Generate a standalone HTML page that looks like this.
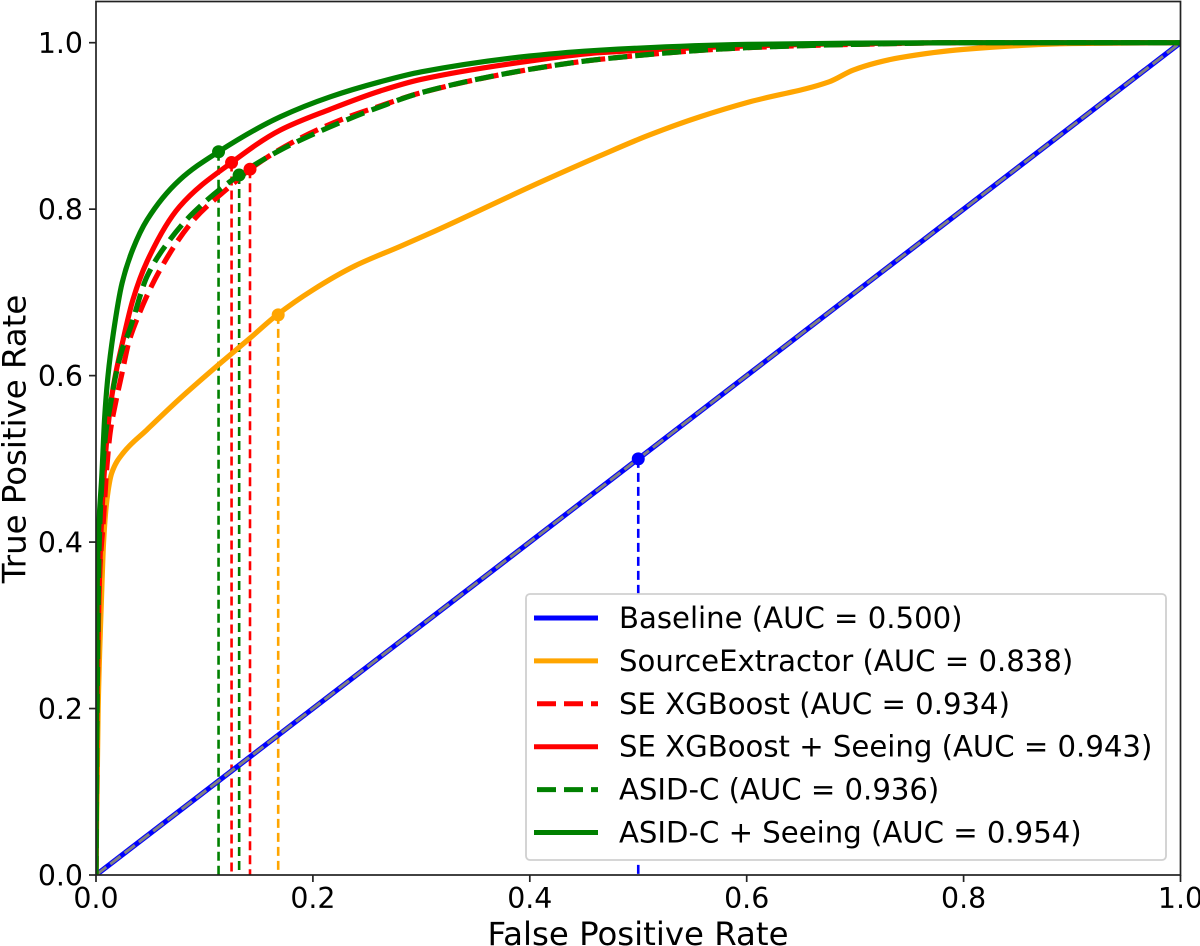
<!DOCTYPE html>
<html lang="en">
<head>
<meta charset="utf-8">
<title>ROC curves</title>
<style>
html,body{margin:0;padding:0;background:#fff;}
svg{display:block;}
text{font-family:"DejaVu Sans","Liberation Sans",sans-serif;fill:#000;}
</style>
</head>
<body>
<svg id="chart" xmlns="http://www.w3.org/2000/svg" width="1200" height="946" viewBox="0 0 1200 946">
<defs><clipPath id="plot-clip"><rect x="96" y="1" width="1084.5" height="874"></rect></clipPath></defs>
<g id="drops" clip-path="url(#plot-clip)"></g>
<g id="curves" clip-path="url(#plot-clip)"></g>
<g id="points"></g>
<g id="legend"></g>
<g id="axes"></g>
</svg>
<script>
const xTickValues = [0, 0.2, 0.4, 0.6, 0.8, 1];
const yTickValues = [0, 0.2, 0.4, 0.6, 0.8, 1];
const xTickLabels = ["0.0", "0.2", "0.4", "0.6", "0.8", "1.0"];
const yTickLabels = ["0.0", "0.2", "0.4", "0.6", "0.8", "1.0"];

const baselineFpr = [0, 1];
const baselineTpr = [0, 1];
const sourceFpr = [0, 0.002, 0.005, 0.007, 0.01, 0.0145, 0.025, 0.047, 0.077, 0.112, 0.142, 0.167, 0.2, 0.239, 0.28, 0.308, 0.409, 0.4645, 0.51, 0.557, 0.603, 0.676, 0.698, 0.72, 0.741, 0.8, 0.9, 1];
const sourceTpr = [0, 0.2, 0.33, 0.4, 0.45, 0.483, 0.507, 0.535, 0.572, 0.612, 0.645, 0.673, 0.703, 0.732, 0.755, 0.771, 0.832, 0.864, 0.889, 0.911, 0.929, 0.953, 0.967, 0.976, 0.982, 0.992, 0.999, 1];
const seFpr = [0, 0.001, 0.003, 0.007, 0.01, 0.013, 0.018, 0.024, 0.03, 0.036, 0.059, 0.09, 0.125, 0.142, 0.185, 0.231, 0.262, 0.3, 0.4, 0.4645, 0.6, 0.7, 0.8, 1];
const seTpr = [0, 0.2, 0.35, 0.43, 0.49, 0.531, 0.567, 0.603, 0.639, 0.662, 0.727, 0.787, 0.829, 0.848, 0.883, 0.91, 0.924, 0.94, 0.968, 0.98, 0.994, 0.998, 1, 1];
const seSeeingFpr = [0, 0.001, 0.004, 0.007, 0.011, 0.016, 0.025, 0.034, 0.047, 0.077, 0.125, 0.17, 0.216, 0.262, 0.3, 0.4, 0.4645, 0.6, 0.7, 0.8, 1];
const seSeeingTpr = [0, 0.2, 0.39, 0.471, 0.538, 0.587, 0.643, 0.691, 0.737, 0.803, 0.856, 0.895, 0.92, 0.942, 0.956, 0.978, 0.988, 0.996, 0.999, 1, 1];
const asidFpr = [0, 0.001, 0.003, 0.006, 0.009, 0.013, 0.018, 0.024, 0.031, 0.047, 0.068, 0.09, 0.132, 0.17, 0.216, 0.262, 0.3, 0.4, 0.4645, 0.6, 0.7, 0.8, 1];
const asidTpr = [0, 0.2, 0.4, 0.483, 0.531, 0.563, 0.599, 0.631, 0.655, 0.719, 0.763, 0.796, 0.841, 0.871, 0.899, 0.923, 0.94, 0.968, 0.98, 0.994, 0.998, 1, 1];
const asidSeeingFpr = [0, 0.001, 0.002, 0.0055, 0.008, 0.011, 0.016, 0.024, 0.034, 0.047, 0.077, 0.113, 0.17, 0.216, 0.262, 0.3, 0.4, 0.4645, 0.6, 0.7, 0.8, 1];
const asidSeeingTpr = [0, 0.33, 0.4, 0.483, 0.55, 0.599, 0.651, 0.711, 0.752, 0.787, 0.835, 0.869, 0.911, 0.935, 0.953, 0.965, 0.984, 0.991, 0.998, 0.9995, 1, 1];

const pointFpr = [0.5, 0.168, 0.142, 0.125, 0.132, 0.113];
const pointTpr = [0.5, 0.673, 0.848, 0.856, 0.841, 0.869];
const seriesNames = ["baseline", "source-extractor", "se-xgboost", "se-xgboost-seeing", "asid-c", "asid-c-seeing"];
const legendLabels = ["Baseline (AUC = 0.500)", "SourceExtractor (AUC = 0.838)", "SE XGBoost (AUC = 0.934)", "SE XGBoost + Seeing (AUC = 0.943)", "ASID-C (AUC = 0.936)", "ASID-C + Seeing (AUC = 0.954)"];
const seriesColors = ["#0000ff", "#ffa500", "#ff0000", "#ff0000", "#008000", "#008000"];
const seriesDashes = ["", "", "19 8", "", "19 8", ""];
const seriesFpr = [baselineFpr, sourceFpr, seFpr, seSeeingFpr, asidFpr, asidSeeingFpr];
const seriesTpr = [baselineTpr, sourceTpr, seTpr, seSeeingTpr, asidTpr, asidSeeingTpr];

const NS = "http://www.w3.org/2000/svg";
function xScale(v) { return 96 + 1084.5 * v; }
function yScale(v) { return 875 - 832.3 * v; }
function make(parent, tag, props, content) {
  const node = document.createElementNS(NS, tag);
  Object.keys(props).forEach(function (k) { node.setAttribute(k, props[k]); });
  if (content !== undefined) node.textContent = content;
  parent.appendChild(node);
  return node;
}
/* Monotone cubic path through the scaled data values */
function curvePath(xs, ys) {
  const n = xs.length;
  const d = [];
  for (let i = 0; i < n - 1; i++) d.push((ys[i + 1] - ys[i]) / (xs[i + 1] - xs[i]));
  const m = [d[0]];
  for (let i = 1; i < n - 1; i++) {
    if (d[i - 1] * d[i] <= 0) { m.push(0); continue; }
    const w1 = 2 * (xs[i + 1] - xs[i]) + (xs[i] - xs[i - 1]);
    const w2 = (xs[i + 1] - xs[i]) + 2 * (xs[i] - xs[i - 1]);
    m.push((w1 + w2) / (w1 / d[i - 1] + w2 / d[i]));
  }
  m.push(d[n - 2]);
  let path = "M" + xs[0] + " " + ys[0];
  for (let i = 0; i < n - 1; i++) {
    const h = (xs[i + 1] - xs[i]) / 3;
    path += "C" + (xs[i] + h) + " " + (ys[i] + m[i] * h) + " " + (xs[i + 1] - h) + " " + (ys[i + 1] - m[i + 1] * h) + " " + xs[i + 1] + " " + ys[i + 1];
  }
  return path;
}
const dropsGroup = document.getElementById("drops");
const curvesGroup = document.getElementById("curves");
const pointsGroup = document.getElementById("points");
const legendGroup = document.getElementById("legend");
const axesGroup = document.getElementById("axes");

seriesNames.forEach(function (name, i) {
  const px = seriesFpr[i].map(xScale);
  const py = seriesTpr[i].map(yScale);
  const el = make(curvesGroup, "path", { d: curvePath(px, py), fill: "none", stroke: seriesColors[i], "stroke-width": 5.2, "stroke-linejoin": "round" });
  
  
  if (seriesDashes[i]) el.setAttribute("stroke-dasharray", seriesDashes[i]);
  if (i === 0) {
    const over = make(curvesGroup, "line", { x1: xScale(baselineFpr[0]), y1: yScale(baselineTpr[0]), x2: xScale(baselineFpr[1]), y2: yScale(baselineTpr[1]), stroke: "#808080", "stroke-width": 3, "stroke-dasharray": "13 5" });
    
    
  }
  const drop = make(dropsGroup, "line", { x1: xScale(pointFpr[i]), y1: yScale(pointTpr[i]), x2: xScale(pointFpr[i]), y2: yScale(0), stroke: seriesColors[i], "stroke-width": 2.6, "stroke-dasharray": "9 5" });
  
  
});
[0, 1, 4, 5, 3, 2].forEach(function (i) {
  const dot = make(pointsGroup, "circle", { cx: xScale(pointFpr[i]), cy: yScale(pointTpr[i]), r: 6.5, fill: seriesColors[i] });
  
  
});

const frame = make(legendGroup, "rect", { x: 526, y: 594, width: 640, height: 266, rx: 4, fill: "#fff", stroke: "#d0d0d0", "stroke-width": 1.8 });


legendLabels.forEach(function (label, i) {
  const rowY = 618 + i * 42.9;
  const x1 = seriesDashes[i] ? 537 : 534;
  const handle = make(legendGroup, "line", { x1: x1, y1: rowY, x2: 598, y2: rowY, stroke: seriesColors[i], "stroke-width": 5 });
  
  
  if (seriesDashes[i]) handle.setAttribute("stroke-dasharray", seriesDashes[i]);
  const txt = make(legendGroup, "text", { x: 619, y: rowY + 10, "font-size": 29.15 }, label);
  
  
});

const spine = make(axesGroup, "rect", { x: 96, y: 1.5, width: 1084.5, height: 873.5, fill: "none", stroke: "#222", "stroke-width": 1.7 });


xTickValues.forEach(function (v, i) {
  const tick = make(axesGroup, "line", { x1: xScale(v), y1: 875, x2: xScale(v), y2: 882, stroke: "#222", "stroke-width": 1.7 });
  
  
  const lab = make(axesGroup, "text", { x: xScale(v), y: 908, "font-size": 28.4, "text-anchor": "middle" }, xTickLabels[i]);
  
  
});
yTickValues.forEach(function (v, i) {
  const tick = make(axesGroup, "line", { x1: 89, y1: yScale(v), x2: 96, y2: yScale(v), stroke: "#222", "stroke-width": 1.7 });
  
  
  const lab = make(axesGroup, "text", { x: 83, y: yScale(v) + 10.5, "font-size": 28.4, "text-anchor": "end" }, yTickLabels[i]);
  
  
});
const xTitle = make(axesGroup, "text", { x: 638, y: 945, "font-size": 32.4, "text-anchor": "middle" }, "False Positive Rate");


const yTitle = make(axesGroup, "text", { x: 0, y: 0, "font-size": 32.4, "text-anchor": "middle", transform: "translate(25.5,439) rotate(-90)" }, "True Positive Rate");


</script>
</body>
</html>
